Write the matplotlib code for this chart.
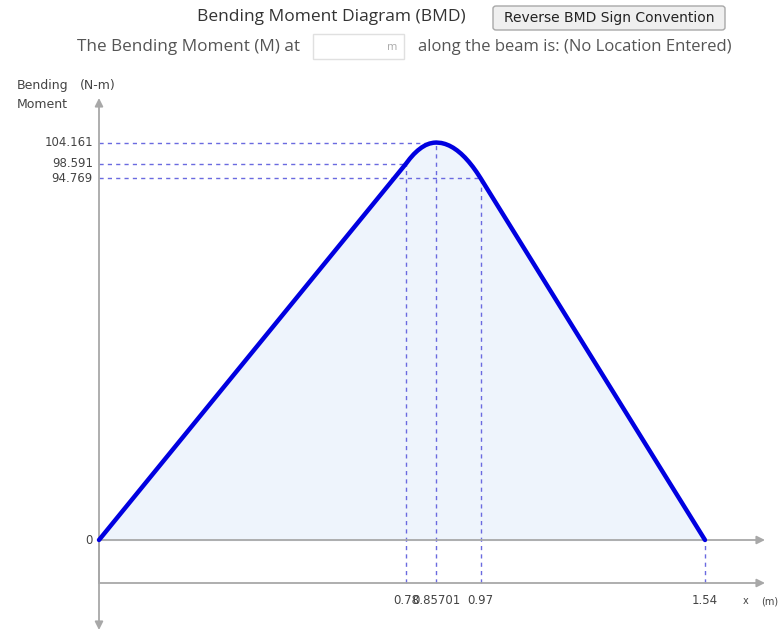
import matplotlib.pyplot as plt
from matplotlib.patches import FancyBboxPatch, Rectangle

# points
x_pts = [0.0, 0.78, 0.79, 0.80, 0.81, 0.82, 0.83, 0.84, 0.85, 0.85701,
         0.87, 0.88, 0.89, 0.90, 0.91, 0.92, 0.93, 0.94, 0.95, 0.96, 0.97, 1.54]
m_pts = [0.0, 98.591, 99.94, 101.11, 102.08, 102.87, 103.48, 103.89, 104.11, 104.161,
         104.04, 103.77, 103.36, 102.80, 102.09, 101.24, 100.24, 99.09, 97.80, 96.36, 94.769, 0.0]

# marked locations and values
mark_x = [0.78, 0.85701, 0.97, 1.54]
mark_xlabels = ['0.78', '0.85701', '0.97', '1.54']
mark_m = [98.591, 104.161, 94.769, 0.0]
ytick_vals = [104.161, 98.591, 94.769, 0]
ytick_labels = ['104.161', '98.591', '94.769', '0']

W, H = 783, 633
px_x0, px_y0 = 99, 540          # pixel of origin
sx, sy = 393.5, 3.816           # pixels per unit

fig = plt.figure(figsize=(W / 100, H / 100), dpi=100)
ax = fig.add_axes([0, 0, 1, 1])
ax.set_xlim(-px_x0 / sx, (W - px_x0) / sx)
ax.set_ylim(-(H - px_y0) / sy, px_y0 / sy)
ax.axis('off')

font = ['DejaVu Sans']
ui_font = ['Open Sans', 'DejaVu Sans']
grey = '#a8a8a8'
txt = '#444444'
dash_col = '#6a6ae0'


def px2x(p):
    return (p - px_x0) / sx


def py2y(p):
    return (px_y0 - p) / sy


# axes lines with arrow heads
y_bot = py2y(583)
arrow_kw = dict(arrowstyle='-|>', color=grey, lw=1.3, mutation_scale=12,
                shrinkA=0, shrinkB=0)
ax.annotate('', xy=(0, py2y(98)), xytext=(0, y_bot), arrowprops=arrow_kw)
ax.annotate('', xy=(0, py2y(630)), xytext=(0, 0), arrowprops=arrow_kw)
ax.annotate('', xy=(px2x(765), 0), xytext=(0, 0), arrowprops=arrow_kw)
ax.annotate('', xy=(px2x(765), y_bot), xytext=(0, y_bot), arrowprops=arrow_kw)

# filled diagram
ax.fill_between(x_pts, m_pts, 0, color='#eef4fc', zorder=1)

# dashed guide lines
for xv, mv in zip(mark_x, mark_m):
    ax.plot([xv, xv], [y_bot, mv], ls=(0, (3, 3)), color=dash_col, lw=1, zorder=2)
    if mv > 0:
        ax.plot([0, xv], [mv, mv], ls=(0, (3, 3)), color=dash_col, lw=1, zorder=2)

ax.plot(x_pts, m_pts, color='#0000e0', lw=3.2, solid_capstyle='round',
        solid_joinstyle='round', zorder=3)

# tick labels
for v, lab in zip(ytick_vals, ytick_labels):
    ax.text(px2x(93), v, lab, ha='right', va='center', fontsize=8.5,
            color=txt, family=font)
for xv, lab in zip(mark_x, mark_xlabels):
    ax.text(xv, py2y(600), lab, ha='center', va='center', fontsize=8.5,
            color=txt, family=font)
ax.text(px2x(746), py2y(601), 'x', ha='center', va='center', fontsize=7,
        color=txt, family=font)
ax.text(px2x(770), py2y(601), '(m)', ha='center', va='center', fontsize=7,
        color=txt, family=font)
ax.text(px2x(17), py2y(86), 'Bending', ha='left', va='center', fontsize=9,
        color=txt, family=font)
ax.text(px2x(17), py2y(105), 'Moment', ha='left', va='center', fontsize=9,
        color=txt, family=font)
ax.text(px2x(98), py2y(86), '(N-m)', ha='center', va='center', fontsize=9,
        color=txt, family=font)

# header
fig.text(331 / W, 1 - 17 / H, 'Bending Moment Diagram (BMD)', ha='center',
         va='center', fontsize=12.5, color='#333333', family=ui_font)
btn = FancyBboxPatch((493 / W, 1 - 30 / H), 232 / W, 24 / H,
                     boxstyle='round,pad=0,rounding_size=0.004',
                     transform=fig.transFigure, facecolor='#efefef',
                     edgecolor='#a8a8a8', lw=1)
fig.patches.append(btn)
fig.text(609 / W, 1 - 18 / H, 'Reverse BMD Sign Convention', ha='center',
         va='center', fontsize=10, color='#222222', family=font)
fig.text(300 / W, 1 - 47 / H, 'The Bending Moment (M) at', ha='right',
         va='center', fontsize=12.3, color='#555555', family=ui_font)
box = Rectangle((313 / W, 1 - 59 / H), 91 / W, 25 / H,
                transform=fig.transFigure, facecolor='white',
                edgecolor='#e0e0e0', lw=1)
fig.patches.append(box)
fig.text(392 / W, 1 - 48 / H, 'm', ha='center', va='center', fontsize=8,
         color='#aaaaaa', family=ui_font)
fig.text(418 / W, 1 - 47 / H, 'along the beam is: (No Location Entered)',
         ha='left', va='center', fontsize=12, color='#555555', family=ui_font)

fig.savefig('out.png', dpi=100)
